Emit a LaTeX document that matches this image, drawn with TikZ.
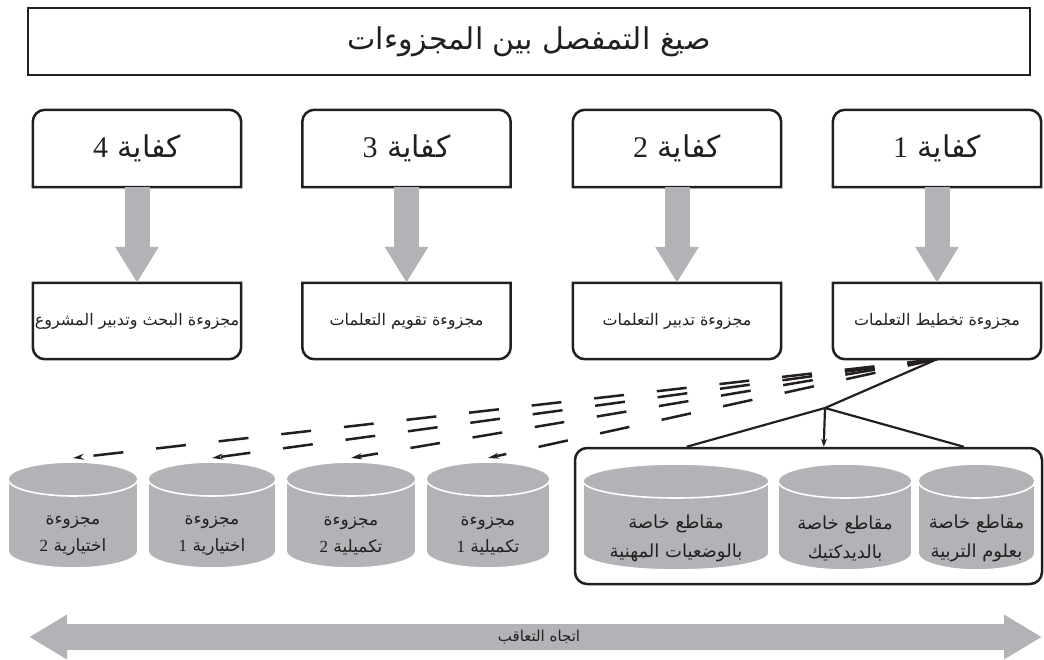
\documentclass[tikz,border=0pt]{standalone}
\usepackage{fontspec}
\setmainfont{Liberation Serif}
\newfontfamily\arabicfont[Script=Arabic]{DejaVu Sans}
\TeXXeTstate=1
\usetikzlibrary{arrows.meta,calc}
\definecolor{ink}{HTML}{231F20}
\definecolor{shade}{HTML}{B1B3B6}
\newcommand\artext[1]{\beginR #1\endR}
\newcommand\drawcyl[7]{%
  \pgfmathsetmacro\cylcx{(#2+#3)/2}%
  \pgfmathsetmacro\cylrx{(#3-#2)/2}%
  \filldraw[cylbody] (#2,#4+17) arc[start angle=180,end angle=360,x radius=\cylrx,y radius=17]
     -- (#3,#5-17) arc[start angle=0,end angle=180,x radius=\cylrx,y radius=17] -- cycle;
  \draw[cylrim] (#2,#4+17) arc[start angle=180,end angle=0,x radius=\cylrx,y radius=17];
  \node[#7] (#1) at (\cylcx,{(#4+#5)/2+21}) {#6};
  \coordinate (#1-top) at (\cylcx,#4-4);
}
\begin{document}
\begin{tikzpicture}[x=1pt,y=-1pt,
  boxline/.style={draw=ink,line width=2.5pt},
  topbox/.style={minimum width=208pt,minimum height=77pt,inner sep=0pt,text=ink,
     font=\arabicfont\fontsize{30}{36}\selectfont},
  lowbox/.style={minimum width=208pt,minimum height=76pt,inner sep=0pt,text=ink,
     font=\arabicfont\fontsize{16}{20}\selectfont},
  bigarrow/.style={draw=shade,line width=25pt,-{Triangle[length=36pt,width=41pt]}},
  cylbody/.style={fill=shade,draw=white,line width=1.6pt},
  cylrim/.style={draw=white,line width=1.6pt},
  cyltext/.style={align=center,text=ink,inner sep=0pt,font=\arabicfont\fontsize{17}{27}\selectfont},
  grptext/.style={align=center,text=ink,inner sep=0pt,font=\arabicfont\fontsize{18}{29}\selectfont},
  dasharrow/.style={draw=ink,line width=2.5pt,dash pattern=on 30pt off 33pt,
     -{Stealth[length=11pt,width=6pt]}},
  branch/.style={draw=ink,line width=2.2pt},
  branchtip/.style={branch,-{Stealth[length=8pt,width=6pt]}},
]
\useasboundingbox (0,0) rectangle (1044,660);

% title
\node[boxline,minimum width=1002pt,minimum height=67pt,inner sep=0pt,text=ink,
  font=\arabicfont\fontsize{30}{36}\selectfont] (title) at (529,41.5)
  {\artext{صيغ التمفصل بين المجزوءات}};

% competence boxes
\node[topbox] (k4) at (137,148.5) {\artext{كفاية {\rmfamily 4}}};
\node[topbox] (k3) at (406.5,148.5) {\artext{كفاية {\rmfamily 3}}};
\node[topbox] (k2) at (677,148.5) {\artext{كفاية {\rmfamily 2}}};
\node[topbox] (k1) at (937,148.5) {\artext{كفاية {\rmfamily 1}}};

\node[lowbox] (m4) at (137,321) {\artext{مجزوءة البحث وتدبير المشروع}};
\node[lowbox] (m3) at (406.5,321) {\artext{مجزوءة تقويم التعلمات}};
\node[lowbox] (m2) at (677,321) {\artext{مجزوءة تدبير التعلمات}};
\node[lowbox] (m1) at (937,321) {\artext{مجزوءة تخطيط التعلمات}};

\foreach \n in {k1,k2,k3,k4}{
  \draw[boxline] (\n.south west) [rounded corners=12pt] -- (\n.north west) -- (\n.north east)
     [sharp corners] -- (\n.south east) -- cycle;
}
\foreach \n in {m1,m2,m3,m4}{
  \draw[boxline] (\n.north west) [rounded corners=12pt] -- (\n.south west) -- (\n.south east)
     [sharp corners] -- (\n.north east) -- cycle;
}

\foreach \a/\b in {k1/m1,k2/m2,k3/m3,k4/m4}{
  \draw[bigarrow] (\a.south) -- (\b.north);
}

% group frame
\node[boxline,rounded corners=12pt,minimum width=467pt,minimum height=136pt,inner sep=0pt] (grp) at (808.5,516) {};

% cylinders
\drawcyl{ex2}{8}{138}{462}{568}{\artext{مجزوءة}\\\artext{اختيارية {\rmfamily 2}}}{cyltext}
\drawcyl{ex1}{148}{276}{462}{568}{\artext{مجزوءة}\\\artext{اختيارية {\rmfamily 1}}}{cyltext}
\drawcyl{tc2}{286}{416}{462}{568}{\artext{مجزوءة}\\\artext{تكميلية {\rmfamily 2}}}{cyltext}
\drawcyl{tc1}{426}{550}{462}{568}{\artext{مجزوءة}\\\artext{تكميلية {\rmfamily 1}}}{cyltext}

\drawcyl{mhn}{583}{769}{464}{570}{\artext{مقاطع خاصة}\\\artext{بالوضعيات المهنية}}{grptext}
\drawcyl{dyd}{778}{912}{464}{570}{\artext{مقاطع خاصة}\\\artext{بالديدكتيك}}{grptext}
\drawcyl{trb}{918}{1035}{464}{570}{\artext{مقاطع خاصة}\\\artext{بعلوم التربية}}{grptext}

% dashed connectors
\foreach \t in {ex2,ex1,tc2,tc1}{
  \draw[dasharrow] (m1.south) -- (\t-top);
}

% solid branching connectors
\coordinate (br) at (825,408);
\coordinate (gL) at ($(grp.north west)+(113,0)$);
\coordinate (gM) at ($(grp.north west)+(250,0)$);
\coordinate (gR) at ($(grp.north west)+(390,0)$);
\draw[branch] (m1.south) -- (br);
\draw[branch] (br) -- (gL);
\draw[branchtip] (br) -- (gM);
\draw[branch] (br) -- (gR);

% sequence arrow
\coordinate (aL) at (29,637);
\coordinate (aR) at (1042,637);
\draw[draw=shade,line width=26pt,{Triangle[length=38pt,width=42pt]}-{Triangle[length=38pt,width=42pt]}] (aL) -- (aR);
\node[text=ink,inner sep=0pt,font=\arabicfont\fontsize{15}{17}\selectfont] (seq) at (539,637) {\artext{اتجاه التعاقب}};
\end{tikzpicture}
\end{document}
